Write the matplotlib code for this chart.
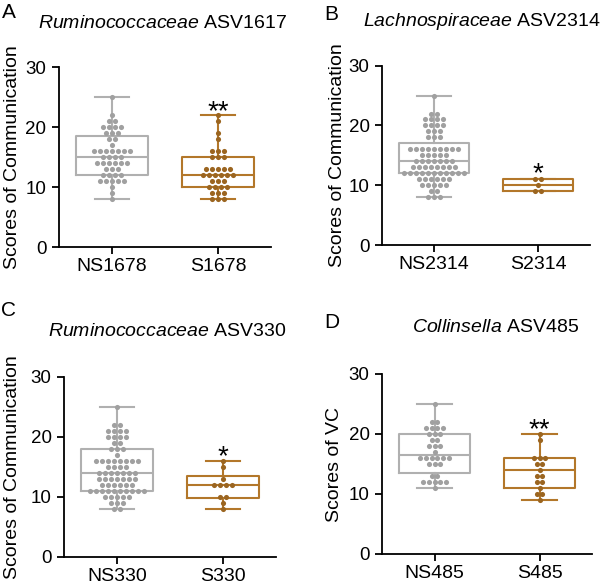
import numpy as np
import matplotlib
matplotlib.use('Agg')
import matplotlib.pyplot as plt

plt.rcParams['font.family'] = 'Liberation Sans'
plt.rcParams['mathtext.fontset'] = 'custom'
plt.rcParams['mathtext.it'] = 'Liberation Sans:italic'
plt.rcParams['mathtext.rm'] = 'Liberation Sans'

# dot values: score level and number of dots at it
a_ns_levels = [25, 22, 21, 20, 19, 18, 17, 16, 15, 14, 13, 12, 11, 10, 9, 8]
a_ns_counts = [1, 1, 2, 4, 3, 2, 1, 7, 4, 6, 3, 4, 5, 1, 1, 1]
a_s_levels = [22, 21, 19, 18, 16, 15, 13, 12, 11, 10, 9, 8]
a_s_counts = [1, 1, 1, 1, 3, 3, 5, 6, 3, 4, 3, 3]

b_ns_levels = [25, 22, 21, 20, 19, 18, 16, 15, 14, 13, 12, 11, 10, 9, 8]
b_ns_counts = [1, 2, 4, 4, 3, 3, 9, 5, 7, 8, 11, 6, 5, 2, 3]
b_s_levels = [11, 10, 9]
b_s_counts = [2, 1, 2]

c_ns_levels = [25, 22, 21, 20, 19, 18, 17, 16, 15, 14, 13, 12, 11, 10, 9, 8]
c_ns_counts = [1, 2, 4, 4, 2, 3, 1, 8, 4, 7, 7, 6, 10, 5, 3, 2]
c_s_levels = [16, 15, 13, 12, 10, 9, 8]
c_s_counts = [1, 1, 1, 4, 2, 1, 1]

d_ns_levels = [25, 22, 21, 20, 19, 18, 17, 16, 15, 13, 12, 11]
d_ns_counts = [1, 2, 4, 3, 2, 3, 1, 6, 3, 2, 5, 1]
d_s_levels = [20, 19, 16, 15, 14, 13, 12, 11, 10, 9]
d_s_counts = [1, 1, 3, 2, 1, 2, 2, 1, 2, 1]

# box statistics as drawn (min, Q1, median, Q3, max), NS then S
a_box = [[8, 12, 15, 18.5, 25], [8, 10, 12, 15, 22]]
b_box = [[8, 12, 14, 17, 25], [9, 9, 10, 11, 11]]
c_box = [[8, 11, 14, 18, 25], [8, 9.75, 12, 13.5, 16]]
d_box = [[11, 13.5, 16.5, 20, 25], [9, 11, 14, 16, 20]]

a_labels = ['NS1678', 'S1678']
b_labels = ['NS2314', 'S2314']
c_labels = ['NS330', 'S330']
d_labels = ['NS485', 'S485']

a_title = r'$\mathit{Ruminococcaceae}$ ASV1617'
b_title = r'$\mathit{Lachnospiraceae}$ ASV2314'
c_title = r'$\mathit{Ruminococcaceae}$ ASV330'
d_title = r'$\mathit{Collinsella}$ ASV485'

a_stars, b_stars, c_stars, d_stars = '**', '*', '*', '**'
a_star_y, b_star_y, c_star_y, d_star_y = 24, 13.4, 18.1, 22.2

W, H = 600, 585
fig = plt.figure(figsize=(6, 5.85), dpi=100)

ns_box, ns_dot = '#b0b0b0', '#a0a0a0'
s_box, s_dot = '#b3772a', '#9b6520'


def add_axes_px(left, right, top, bottom):
    return fig.add_axes([left / W, 1 - bottom / H, (right - left) / W, (bottom - top) / H])


def draw_panel(left, right, top, bottom, groups, stats, labels, ylabel,
               title, title_xy, letter, letter_xy, stars, star_y, ylabel_px):
    ax = add_axes_px(left, right, top, bottom)
    bstats = [dict(whislo=s[0], q1=s[1], med=s[2], q3=s[3], whishi=s[4], fliers=[])
              for s in stats]
    art = ax.bxp(bstats, positions=[1, 2], widths=0.67, capwidths=0.33,
                 showfliers=False)
    for i, c in enumerate([ns_box, s_box]):
        art['boxes'][i].set(color=c, lw=1.5)
        art['medians'][i].set(color=c, lw=1.5)
        for ln in art['whiskers'][2 * i:2 * i + 2] + art['caps'][2 * i:2 * i + 2]:
            ln.set(color=c, lw=1.5)

    # simple beeswarm: dots of one level side by side
    step = 0.057
    for pos, (levels, counts), dc in zip([1, 2], groups, [ns_dot, s_dot]):
        for lvl, n in zip(levels, counts):
            xs = pos + (np.arange(n) - (n - 1) / 2) * step
            ax.plot(xs, np.full(n, lvl), 'o', ms=3.7, color=dc, mec='none', zorder=4)

    ax.set_xlim(0.5, 2.5)
    ax.set_ylim(0, 30)
    ax.set_yticks([0, 10, 20, 30])
    ax.set_xticks([1, 2])
    ax.set_xticklabels(labels)
    for sp in ['top', 'right']:
        ax.spines[sp].set_visible(False)
    for sp in ['left', 'bottom']:
        ax.spines[sp].set_linewidth(1.3)
    ax.tick_params(length=5, width=1.3, labelsize=14, colors='black')
    ax.tick_params(axis='x', pad=3)
    ax.tick_params(axis='y', pad=4, labelsize=13.5)
    ax.set_ylabel(ylabel, fontsize=14)
    ax.yaxis.set_label_coords((ylabel_px - left) / (right - left), 0.5)

    ax.annotate(stars, xy=(2, star_y), xytext=(0, -11.5), textcoords='offset points',
                ha='center', va='baseline', fontsize=20)

    fig.text(title_xy[0] / W, 1 - title_xy[1] / H, title, ha='center', va='center', fontsize=14)
    fig.text(letter_xy[0] / W, 1 - letter_xy[1] / H, letter, ha='center', va='center', fontsize=15)
    return ax


draw_panel(59, 271, 67, 247,
           [(a_ns_levels, a_ns_counts), (a_s_levels, a_s_counts)], a_box, a_labels,
           'Scores of Communication', a_title, (163, 24), 'A', (9, 13),
           a_stars, a_star_y, 21)
draw_panel(382, 590, 65.7, 245,
           [(b_ns_levels, b_ns_counts), (b_s_levels, b_s_counts)], b_box, b_labels,
           'Scores of Communication', b_title, (482, 22), 'B', (331, 14),
           b_stars, b_star_y, 346)
draw_panel(64, 276, 376.7, 556.7,
           [(c_ns_levels, c_ns_counts), (c_s_levels, c_s_counts)], c_box, c_labels,
           'Scores of Communication', c_title, (167, 332), 'C', (9, 310),
           c_stars, c_star_y, 21)
draw_panel(382, 592, 374, 554,
           [(d_ns_levels, d_ns_counts), (d_s_levels, d_s_counts)], d_box, d_labels,
           'Scores of VC', d_title, (496, 328), 'D', (332, 323),
           d_stars, d_star_y, 343)

fig.savefig('out.png', dpi=100)
